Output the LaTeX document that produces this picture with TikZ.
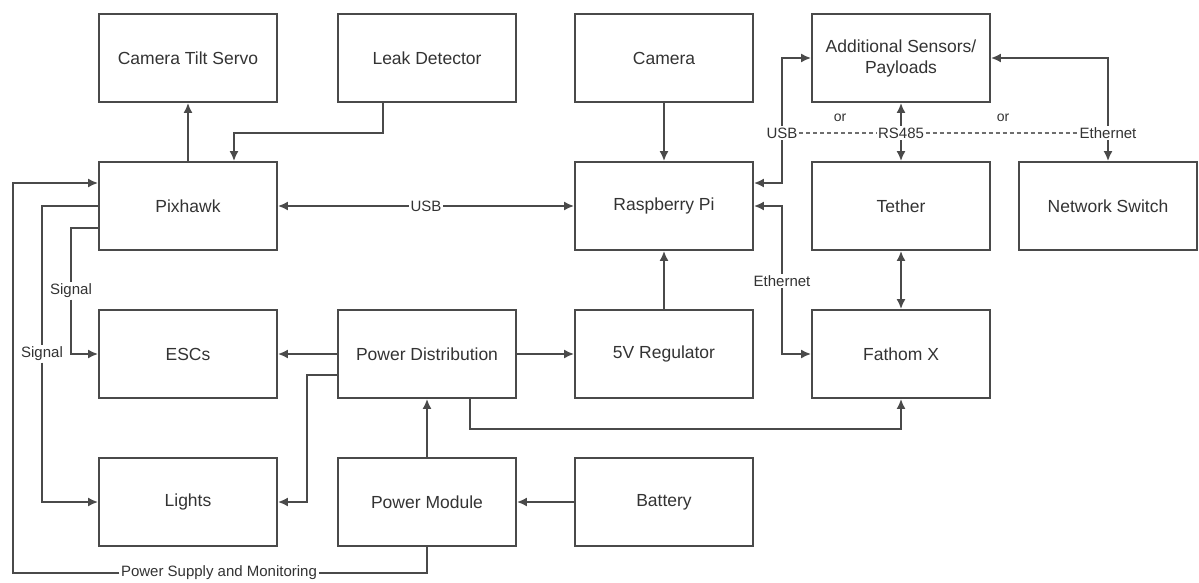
\documentclass[tikz,border=0pt]{standalone}
\usepackage{fontspec}
\setmainfont{Liberation Sans}
\usetikzlibrary{arrows.meta,calc}
\definecolor{ln}{HTML}{4A4A4A}
\definecolor{tx}{HTML}{333333}
\tikzset{
  box/.style={draw=ln, line width=1.9pt, minimum width=178pt, minimum height=88pt, inner sep=0pt, text=tx, font=\fontsize{17.5}{21}\selectfont, align=center},
  lbl/.style={fill=white, inner sep=1.5pt, text=tx, font=\fontsize{15}{17}\selectfont},
  orlbl/.style={inner sep=1pt, text=tx, font=\fontsize{14}{16}\selectfont},
  conn/.style={draw=ln, line width=1.7pt},
  arr/.style={conn, -{Latex[length=10pt,width=9pt]}},
  arrb/.style={conn, {Latex[length=10pt,width=9pt]}-{Latex[length=10pt,width=9pt]}},
  dsh/.style={draw=ln!80, line width=1.4pt, dash pattern=on 4pt off 3pt}
}
\begin{document}
\begin{tikzpicture}[x=1pt,y=-1pt]
\useasboundingbox (0,0) rectangle (1199,583);
% boxes
\node[box] (cts) at (188,58) {Camera Tilt Servo};
\node[box] (ld) at (427,58) {Leak Detector};
\node[box] (cam) at (664,58) {Camera};
\node[box] (adds) at (901,58) {Additional Sensors/\\Payloads};
\node[box] (pix) at (188,206) {Pixhawk};
\node[box] (rpi) at (664,206) {Raspberry Pi};
\node[box] (teth) at (901,206) {Tether};
\node[box] (nsw) at (1108,206) {Network Switch};
\node[box] (esc) at (188,354) {ESCs};
\node[box] (pd) at (427,354) {Power Distribution};
\node[box] (reg) at (664,354) {5V Regulator};
\node[box] (fx) at (901,354) {Fathom X};
\node[box] (lights) at (188,502) {Lights};
\node[box] (pm) at (427,502) {Power Module};
\node[box] (bat) at (664,502) {Battery};
% label nodes
\node[lbl] (usb2) at (782,133) {USB};
\node[lbl] (rs) at (901,133) {RS485};
\node[lbl] (eth1) at (1108,133) {Ethernet};
\node[orlbl] (or1) at (840,118) {or};
\node[orlbl] (or2) at (1003,118) {or};
\node[lbl] (eth2) at (782,281) {Ethernet};
\node[lbl] (sig1) at (71,291) {Signal};
\node[lbl] (sig2) at (42,354) {Signal};
\node[lbl] (psm) at (219,573) {Power Supply and Monitoring};
\coordinate (c1) at (13,573);
% connectors
\draw[arr] (pix) -- (cts);
\draw[arr] ([xshift=-44pt]ld.south) -- ++(0,30) -| ([xshift=46pt]pix.north);
\draw[arr] (cam) -- (rpi);
\draw[arrb] (pix) -- node[lbl]{USB} (rpi);
\draw[arr] (usb2.south) |- ([yshift=23pt]rpi.east);
\draw[arr] (usb2.north) |- (adds.west);
\draw[arr] (rs.north) -- (adds.south);
\draw[arr] (rs.south) -- (teth.north);
\draw[arr] (eth1.north) |- (adds.east);
\draw[arr] (eth1.south) -- (nsw.north);
\draw[dsh] (usb2.east) -- (rs.west);
\draw[dsh] (rs.east) -- (eth1.west);
\draw[arr] (eth2.north) |- (rpi.east);
\draw[arr] (eth2.south) |- (fx.west);
\draw[arrb] (teth) -- (fx);
\draw[arr] (reg) -- (rpi);
\draw[arr] (pd) -- (reg);
\draw[arr] (pd) -- (esc);
\draw[arr] ([yshift=-21pt]pd.west) -- ++(-30,0) |- (lights.east);
\draw[arr] (pm) -- (pd);
\draw[arr] (bat) -- (pm);
\draw[arr] ([xshift=43pt]pd.south) -- ++(0,30) -| (fx.south);
\draw[conn] (pm.south) |- (psm.east);
\draw[arr] (psm.west) -- (c1) |- ([yshift=23pt]pix.west);
\draw[conn] ([yshift=-22pt]pix.west) -| (sig1.north);
\draw[arr] (sig1.south) |- (esc.west);
\draw[conn] (pix.west) -| (sig2.north);
\draw[arr] (sig2.south) |- (lights.west);
\end{tikzpicture}
\end{document}
